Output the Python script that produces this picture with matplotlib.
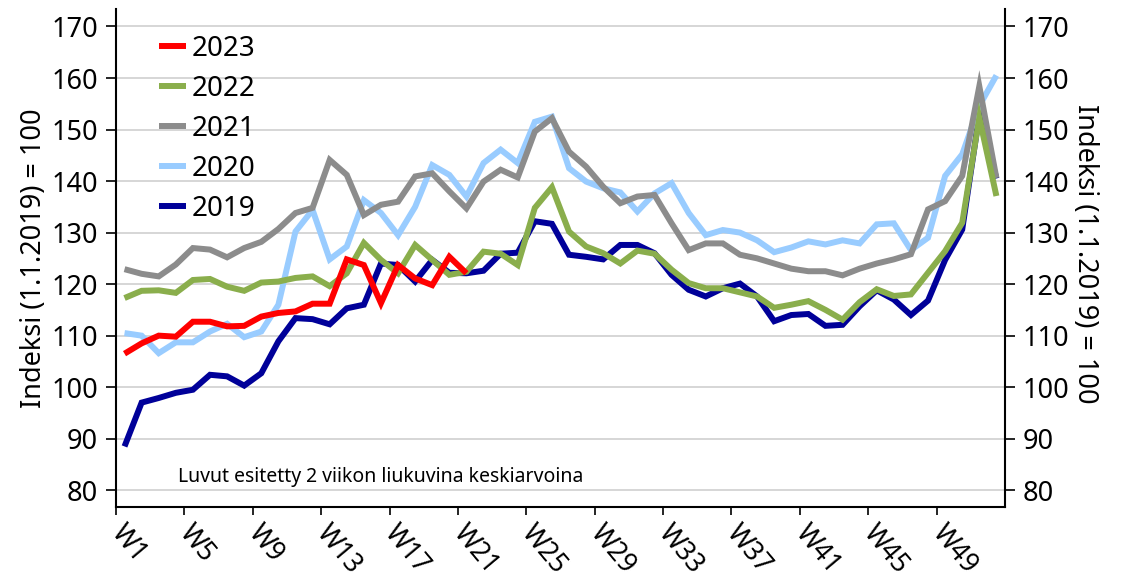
import matplotlib.pyplot as plt

plt.rcParams["font.family"] = ["Noto Sans", "DejaVu Sans"]

weeks = list(range(1, 53))
tick_labels = [f"W{w}" for w in range(1, 53, 4)]

v2019 = [88.5, 97.0, 97.9, 98.9, 99.5, 102.4, 102.1, 100.3, 102.7, 108.9,
         113.4, 113.2, 112.2, 115.3, 116.0, 124.0, 123.7, 120.5, 124.7, 122.2,
         122.1, 122.6, 125.9, 126.1, 132.2, 131.7, 125.7, 125.3, 124.8, 127.6,
         127.6, 126.0, 121.8, 118.9, 117.6, 119.2, 120.1, 117.6, 112.8, 114.0,
         114.2, 111.9, 112.1, 115.7, 118.8, 117.0, 114.0, 116.8, 124.7, 130.6,
         152.9, 140.5]
v2020 = [110.5, 110.0, 106.6, 108.7, 108.7, 110.8, 112.3, 109.7, 110.8, 116.0,
         130.2, 134.4, 124.8, 127.3, 136.3, 133.8, 129.5, 135.0, 143.1, 141.2,
         137.0, 143.5, 146.1, 143.5, 151.5, 152.5, 142.5, 139.9, 138.6, 137.8,
         134.1, 137.6, 139.6, 133.8, 129.5, 130.5, 130.0, 128.5, 126.2, 127.1,
         128.3, 127.7, 128.5, 127.9, 131.6, 131.8, 126.6, 129.0, 141.0, 145.2,
         154.6, 160.5]
v2021 = [122.9, 122.0, 121.5, 123.8, 127.0, 126.7, 125.2, 127.0, 128.2, 130.7,
         133.8, 134.8, 144.1, 141.2, 133.4, 135.4, 136.0, 140.9, 141.5, 138.0,
         134.7, 139.9, 142.2, 140.7, 149.6, 152.2, 145.7, 142.8, 138.9, 135.7,
         137.0, 137.3, 131.8, 126.6, 127.9, 127.9, 125.7, 125.0, 124.0, 123.0,
         122.5, 122.5, 121.7, 123.0, 124.0, 124.8, 125.8, 134.5, 136.1, 141.0,
         158.4, 140.6]
v2022 = [117.3, 118.7, 118.8, 118.3, 120.8, 121.0, 119.5, 118.7, 120.3, 120.5,
         121.2, 121.5, 119.6, 122.1, 128.0, 124.7, 122.1, 127.6, 124.7, 121.8,
         122.4, 126.3, 125.9, 123.7, 134.8, 138.8, 130.2, 127.3, 126.0, 124.0,
         126.5, 125.9, 122.8, 120.2, 119.2, 119.2, 118.4, 117.6, 115.4, 116.0,
         116.7, 115.0, 113.1, 116.5, 119.0, 117.7, 118.0, 122.2, 126.4, 131.9,
         152.3, 137.1]
v2023 = [106.5, 108.5, 110.0, 109.8, 112.7, 112.7, 111.8, 111.9, 113.7, 114.4,
         114.7, 116.2, 116.2, 124.8, 123.7, 116.3, 123.7, 121.1, 119.8, 125.3,
         122.1]

series = [
    ("2019", v2019, "#000099"),
    ("2020", v2020, "#99CCFF"),
    ("2021", v2021, "#8C8C8C"),
    ("2022", v2022, "#8AAE4C"),
    ("2023", v2023, "#FF0000"),
]

fig = plt.figure(figsize=(11.26, 5.83), dpi=100)
ax = fig.add_axes([0.103, 0.130, 0.7895, 0.8546])

for label, vals, color in series:
    ax.plot(weeks[:len(vals)], vals, color=color, lw=4.3, label=label,
            solid_joinstyle="miter", solid_capstyle="butt")

ax.set_xlim(0.5, 52.5)
ax.set_ylim(76.7, 173.4)
ax.set_yticks(range(80, 171, 10))
ax.grid(axis="y", color="#D0D0D0", lw=1.2)
ax.set_axisbelow(True)

ax.set_xticks([w - 0.5 for w in range(1, 53, 4)])
ax.set_xticklabels(tick_labels, rotation=-50, ha="left", va="center",
                   rotation_mode="anchor", fontsize=19)
ax.tick_params(axis="x", length=6, width=1.2, pad=9)
ax.tick_params(axis="y", length=7, width=1.2, labelsize=19.5, pad=6,
               right=True, labelright=True, direction="out")

ax.spines["top"].set_visible(False)
for s in ("left", "right", "bottom"):
    ax.spines[s].set_linewidth(1.5)

ax.set_ylabel("Indeksi (1.1.2019) = 100", fontsize=19.5)
ax.yaxis.set_label_coords(-0.077, 0.5)
fig.text(0.964, 0.565, "Indeksi (1.1.2019) = 100", rotation=-90,
         ha="center", va="center", fontsize=19.5)

ax.text(0.07, 0.06, "Luvut esitetty 2 viikon liukuvina keskiarvoina",
        transform=ax.transAxes, fontsize=14, va="center", ha="left")

handles, labels = ax.get_legend_handles_labels()
ax.legend(handles[::-1], labels[::-1], loc="upper left",
          bbox_to_anchor=(0.048, 0.948), frameon=False, fontsize=20,
          handlelength=1.0, handletextpad=0.2, labelspacing=0.43,
          borderpad=0, borderaxespad=0)

fig.savefig("out.png", dpi=100)
